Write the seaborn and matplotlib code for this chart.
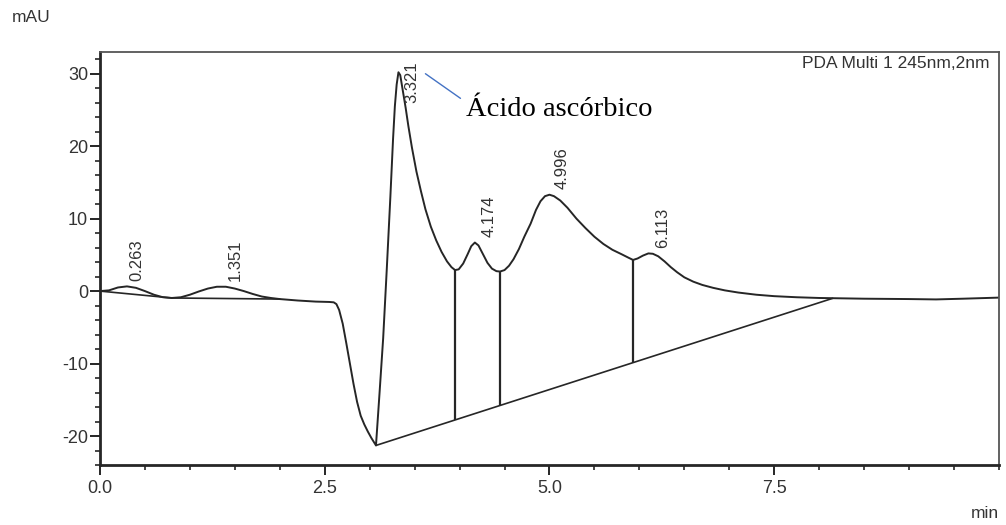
import numpy as np
import pandas as pd
import matplotlib
matplotlib.use('Agg')
import matplotlib.pyplot as plt
import seaborn as sns

# chromatogram trace (time in min, signal in mAU)
time_min = [0.00, 0.10, 0.20, 0.30, 0.40, 0.50, 0.60, 0.70, 0.80, 0.90,
            1.00, 1.10, 1.20, 1.30, 1.40, 1.50, 1.60, 1.70, 1.80, 1.90,
            2.00, 2.20, 2.40, 2.55, 2.60, 2.63, 2.66, 2.70, 2.74, 2.78,
            2.82, 2.86, 2.90, 2.94, 2.98, 3.02, 3.07, 3.11, 3.15, 3.19,
            3.23, 3.26, 3.28, 3.30, 3.32, 3.34, 3.36, 3.38, 3.40, 3.43,
            3.47, 3.52, 3.57, 3.62, 3.68, 3.74, 3.80, 3.86, 3.91, 3.95,
            3.99, 4.04, 4.09, 4.13, 4.17, 4.21, 4.26, 4.31, 4.36, 4.41,
            4.45, 4.50, 4.55, 4.60, 4.66, 4.72, 4.79, 4.85, 4.90, 4.95,
            5.00, 5.05, 5.12, 5.20, 5.30, 5.40, 5.50, 5.60, 5.70, 5.80,
            5.88, 5.93, 5.98, 6.04, 6.10, 6.15, 6.21, 6.28, 6.35, 6.42,
            6.50, 6.60, 6.70, 6.82, 6.95, 7.10, 7.30, 7.50, 7.75, 8.00,
            8.25, 8.50, 9.00, 9.30, 9.60, 10.00]
signal_mau = [0.0, 0.1, 0.5, 0.65, 0.45, 0.0, -0.5, -0.85, -0.95, -0.85,
              -0.5, -0.05, 0.35, 0.6, 0.6, 0.35, 0.0, -0.4, -0.75, -0.95,
              -1.1, -1.3, -1.45, -1.5, -1.55, -1.8, -2.6, -4.5, -7.2, -10.0,
              -12.8, -15.3, -17.2, -18.4, -19.4, -20.3, -21.3, -14.0, -6.5, 3.0,
              13.0, 21.0, 25.5, 28.5, 30.2, 29.8, 28.3, 26.8, 25.3, 22.8,
              19.8, 16.5, 13.8, 11.3, 8.9, 7.0, 5.4, 4.1, 3.3, 2.9,
              3.0, 3.8, 5.1, 6.2, 6.7, 6.3, 5.1, 3.9, 3.1, 2.75,
              2.7, 2.9, 3.5, 4.4, 5.8, 7.5, 9.3, 11.2, 12.4, 13.1,
              13.3, 13.1, 12.5, 11.5, 10.0, 8.7, 7.5, 6.5, 5.7, 5.1,
              4.6, 4.3, 4.5, 4.9, 5.2, 5.15, 4.8, 4.1, 3.3, 2.6,
              1.9, 1.3, 0.85, 0.45, 0.1, -0.2, -0.5, -0.7, -0.85, -0.95,
              -1.0, -1.05, -1.1, -1.15, -1.05, -0.9]

# retention times printed above the peaks and their apex heights
peak_labels = ['0.263', '1.351', '3.321', '4.174', '4.996', '6.113']
peak_times = [0.263, 1.351, 3.321, 4.174, 4.996, 6.113]
peak_heights = [0.65, 0.6, 30.2, 6.7, 13.3, 5.2]

# integration baselines (start / end points) and drop lines
base_t0 = [0.00, 0.80, 3.07]
base_y0 = [0.0, -0.95, -21.3]
base_t1 = [0.80, 2.00, 8.15]
base_y1 = [-0.95, -1.1, -1.0]
drop_times = [3.95, 4.45, 5.93]
drop_tops = [2.9, 2.7, 4.3]

trace = pd.DataFrame({'min': time_min, 'mAU': signal_mau})

sns.set_style('ticks')
plt.rcParams['font.family'] = ['Liberation Sans', 'DejaVu Sans']
plt.rcParams['axes.unicode_minus'] = False

fig = plt.figure(figsize=(10.06, 5.25), dpi=100)
ax = fig.add_axes([0.0994, 0.1143, 0.8936, 0.7867])

ink = '#262626'
sns.lineplot(data=trace, x='min', y='mAU', color=ink, lw=1.4,
             sort=False, estimator=None, ax=ax)

# baselines
for t0, y0, t1, y1 in zip(base_t0, base_y0, base_t1, base_y1):
    ax.plot([t0, t1], [y0, y1], color=ink, lw=1.2)

# drop lines from the valley down to the main baseline
slope = (base_y1[2] - base_y0[2]) / (base_t1[2] - base_t0[2])
for t, top in zip(drop_times, drop_tops):
    bottom = base_y0[2] + slope * (t - base_t0[2])
    ax.vlines(t, bottom, top, color=ink, lw=1.6)

# peak labels
for lab, t, h in zip(peak_labels, peak_times, peak_heights):
    ax.text(t + 0.15, min(h + 0.8, 26.0), lab, rotation=90,
            ha='center', va='bottom', fontsize=12, color='#333333')

# annotation for ascorbic acid
ax.plot([3.62, 4.01], [30.0, 26.6], color='#4472C4', lw=1.0)
ax.text(4.07, 24.2, 'Ácido ascórbico', family=['Liberation Serif', 'DejaVu Serif'],
        fontsize=20.5, color='black', ha='left', va='baseline')

ax.text(0.99, 0.973, 'PDA Multi 1 245nm,2nm', transform=ax.transAxes,
        ha='right', va='center', fontsize=12.5, color='#333333')

ax.set_xlim(0, 10)
ax.set_ylim(-24, 33)
ax.set_xticks([0.0, 2.5, 5.0, 7.5])
ax.set_xticklabels(['0.0', '2.5', '5.0', '7.5'])
ax.set_xticks(np.arange(0, 10.01, 0.5), minor=True)
ax.set_yticks([-20, -10, 0, 10, 20, 30])
ax.set_yticks(np.arange(-24, 33, 2), minor=True)
ax.tick_params(which='major', length=7, width=1.4, color=ink,
               labelsize=13, labelcolor='#333333')
ax.tick_params(axis='x', which='major', pad=4)
ax.tick_params(axis='y', which='major', pad=1.5)
ax.tick_params(which='minor', length=3.5, width=1.2, color=ink)
ax.set_xlabel('')
ax.set_ylabel('')

for side in ['left', 'bottom']:
    ax.spines[side].set_linewidth(2.0)
    ax.spines[side].set_color(ink)
for side in ['top', 'right']:
    ax.spines[side].set_visible(True)
    ax.spines[side].set_linewidth(1.3)
    ax.spines[side].set_color('#555555')

fig.text(31 / 1006, 1 - 18 / 525, 'mAU', ha='center', va='center',
         fontsize=12.5, color='#333333')
fig.text(985 / 1006, 1 - 514 / 525, 'min', ha='center', va='center',
         fontsize=12.5, color='#333333')

plt.savefig('out.png', dpi=100)
